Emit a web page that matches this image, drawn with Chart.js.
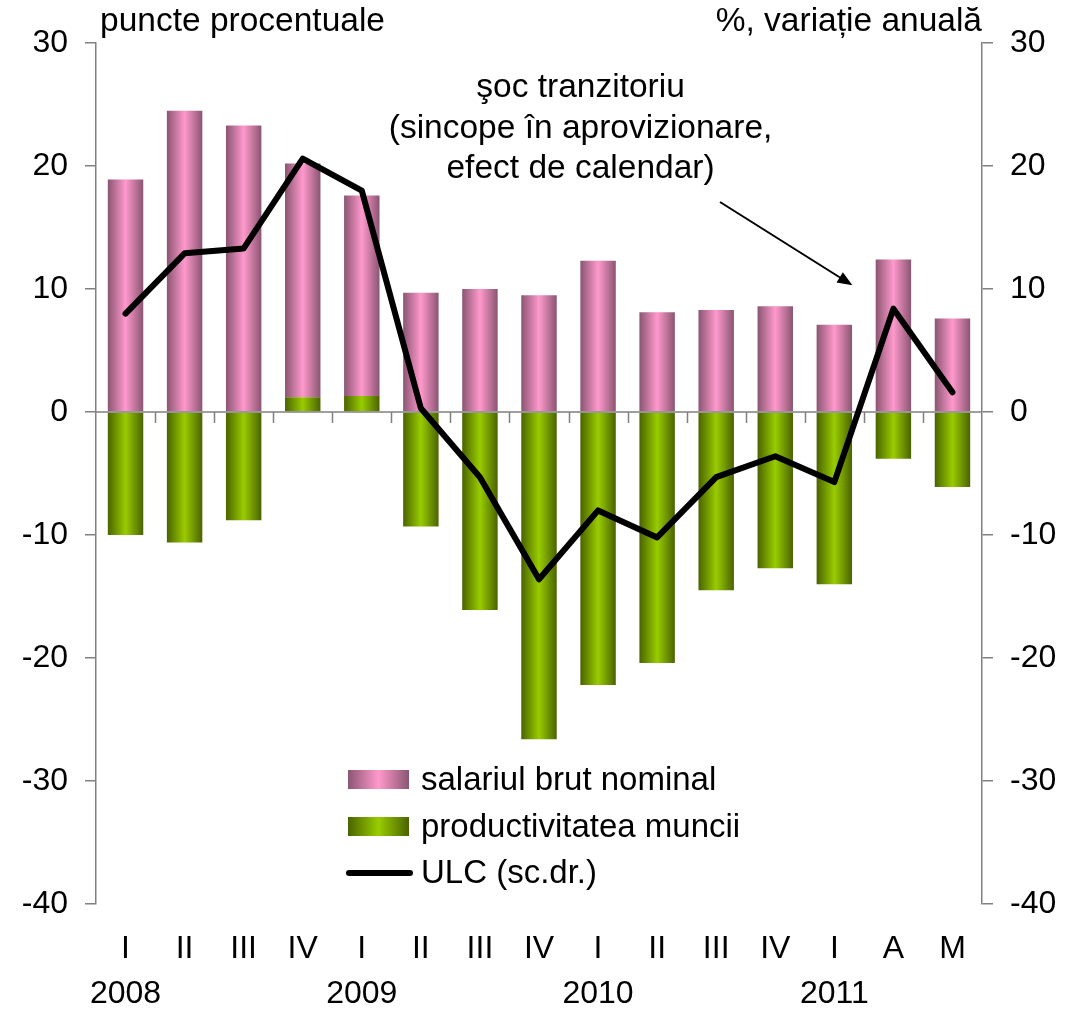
<!DOCTYPE html>
<html>
<head>
<meta charset="utf-8">
<script src="https://cdn.jsdelivr.net/npm/chart.js@4.4.1/dist/chart.umd.min.js"></script>
<style>
  html, body { margin: 0; padding: 0; background: #fff; }
  #wrap { width: 1067px; height: 1010px; }
</style>
</head>
<body>
<div id="wrap"><canvas id="ulcChart"></canvas></div>
<script>
// quarters 2008-2011 (A, M = April, May 2011)
const quarters = [["I", "2008"], "II", "III", "IV", ["I", "2009"], "II", "III", "IV",
                  ["I", "2010"], "II", "III", "IV", ["I", "2011"], "A", "M"];
const salariu = [18.9, 24.5, 23.3, 19.0, 16.3, 9.7, 10.0, 9.5, 12.3, 8.1, 8.3, 8.6, 7.1, 12.4, 7.6];
const productivitate = [-10.0, -10.6, -8.8, 1.2, 1.3, -9.3, -16.1, -26.6, -22.2, -20.4, -14.5, -12.7, -14.0, -3.8, -6.1];
const ulc = [8.0, 12.9, 13.3, 20.6, 18.0, 0.3, -5.3, -13.6, -8.0, -10.2, -5.3, -3.6, -5.7, 8.4, 1.6];
const legendLabels = ["salariul brut nominal", "productivitatea muncii", "ULC (sc.dr.)"];
const yMin = -40, yMax = 30, yStep = 10;

const FONT = "'Liberation Sans', Arial, sans-serif";
const axisGrey = "#808080";
const pinkStops = ["#8a5572", "#ff99cc", "#8a5572"];
const greenStops = ["#4a6300", "#99cc00", "#4a6300"];
const barPct = 0.6;

function barGradient(context, stops) {
    const chart = context.chart;
    if (!chart.chartArea || context.type !== "data") return stops[1];
    const xs = chart.scales.x;
    const cx = xs.getPixelForValue(context.dataIndex);
    const half = (xs.width / quarters.length) * barPct / 2;
    const g = chart.ctx.createLinearGradient(cx - half, 0, cx + half, 0);
    g.addColorStop(0, stops[0]);
    g.addColorStop(0.5, stops[1]);
    g.addColorStop(1, stops[2]);
    return g;
}

function boxGradient(c, x, w, stops) {
    const g = c.createLinearGradient(x, 0, x + w, 0);
    g.addColorStop(0, stops[0]);
    g.addColorStop(0.5, stops[1]);
    g.addColorStop(1, stops[2]);
    return g;
}

const decorations = {
    id: "decorations",
    beforeDatasetDraw(chart, args) {
        if (args.index !== 2) return;
        // zero line with small category ticks under it
        const c = chart.ctx;
        const xs = chart.scales.x, ys = chart.scales.y;
        const y0 = ys.getPixelForValue(0);
        const w = xs.width / quarters.length;
        c.save();
        c.strokeStyle = axisGrey;
        c.lineWidth = 1.5;
        c.beginPath();
        c.moveTo(xs.left, y0);
        c.lineTo(xs.right, y0);
        for (let i = 1; i < quarters.length; i++) {
            const x = Math.round(xs.left + i * w) + 0.5;
            c.moveTo(x, y0);
            c.lineTo(x, y0 + 11);
        }
        c.stroke();
        c.restore();
    },
    afterDraw(chart) {
        const c = chart.ctx;
        const area = chart.chartArea;
        const xs = chart.scales.x, ys = chart.scales.y;
        c.save();
        c.fillStyle = "#000";
        c.font = "33.5px " + FONT;
        c.textBaseline = "middle";

        // axis captions
        c.textAlign = "left";
        c.fillText("puncte procentuale", area.left + 4, 22);
        c.textAlign = "right";
        c.fillText("%, variație anuală", area.right, 22);

        // annotation
        c.textAlign = "center";
        const ax = (xs.getPixelForValue(7) + xs.getPixelForValue(8)) / 2 + 12;
        c.fillText("şoc tranzitoriu", ax, 88);
        c.fillText("(sincope în aprovizionare,", ax, 129);
        c.fillText("efect de calendar)", ax, 169);

        // arrow
        const tipX = xs.getPixelForValue(13) - 41, tipY = ys.getPixelForValue(10.3);
        const startX = 720, startY = 202;
        const ang = Math.atan2(tipY - startY, tipX - startX);
        c.strokeStyle = "#000";
        c.lineWidth = 2;
        c.beginPath();
        c.moveTo(startX, startY);
        c.lineTo(tipX - 10 * Math.cos(ang), tipY - 10 * Math.sin(ang));
        c.stroke();
        c.beginPath();
        c.moveTo(tipX, tipY);
        c.lineTo(tipX - 15 * Math.cos(ang) + 6 * Math.sin(ang), tipY - 15 * Math.sin(ang) - 6 * Math.cos(ang));
        c.lineTo(tipX - 15 * Math.cos(ang) - 6 * Math.sin(ang), tipY - 15 * Math.sin(ang) + 6 * Math.cos(ang));
        c.closePath();
        c.fill();

        // legend
        const lx = 348, bw = 61, tx = 421;
        const rows = [780, 827, 873];
        c.font = "33px " + FONT;
        c.textAlign = "left";
        c.fillStyle = boxGradient(c, lx, bw, pinkStops);
        c.fillRect(lx, rows[0] - 10, bw, 19);
        c.fillStyle = boxGradient(c, lx, bw, greenStops);
        c.fillRect(lx, rows[1] - 10, bw, 19);
        c.strokeStyle = "#000";
        c.lineWidth = 6;
        c.lineCap = "round";
        c.beginPath();
        c.moveTo(lx + 1, rows[2]);
        c.lineTo(lx + bw + 1, rows[2]);
        c.stroke();
        c.fillStyle = "#000";
        legendLabels.forEach((t, i) => c.fillText(t, tx, rows[i] + 1));
        c.restore();
    }
};

const tickFont = { family: FONT, size: 32 };

new Chart(document.getElementById("ulcChart"), {
    type: "bar",
    data: {
        labels: quarters,
        datasets: [
            {
                label: legendLabels[1],
                data: productivitate,
                backgroundColor: ctx => barGradient(ctx, greenStops),
                borderWidth: 0,
                barPercentage: barPct,
                categoryPercentage: 1.0,
                order: 1
            },
            {
                label: legendLabels[0],
                data: salariu,
                backgroundColor: ctx => barGradient(ctx, pinkStops),
                borderWidth: 0,
                barPercentage: barPct,
                categoryPercentage: 1.0,
                order: 2
            },
            {
                type: "line",
                label: legendLabels[2],
                data: ulc,
                yAxisID: "y1",
                borderColor: "#000",
                borderWidth: 6,
                pointRadius: 0,
                borderJoinStyle: "round",
                borderCapStyle: "round",
                tension: 0,
                order: 0
            }
        ]
    },
    options: {
        responsive: true,
        maintainAspectRatio: false,
        animation: false,
        layout: { padding: { top: 43, left: 0, right: 0, bottom: 0 } },
        plugins: {
            legend: { display: false },
            tooltip: { enabled: false }
        },
        scales: {
            x: {
                stacked: true,
                grid: { display: false, drawTicks: false },
                border: { display: false },
                ticks: {
                    color: "#000",
                    font: { family: FONT, size: 32, lineHeight: 1.4 },
                    padding: 23,
                    maxRotation: 0,
                    autoSkip: false
                },
                afterFit(scale) { scale.height = 106; }
            },
            y: {
                stacked: true,
                position: "left",
                min: yMin,
                max: yMax,
                ticks: { stepSize: yStep, color: "#000", font: tickFont, padding: 17 },
                grid: { drawOnChartArea: false, tickLength: 11, color: axisGrey, lineWidth: 1.5 },
                border: { color: axisGrey, width: 1.5 },
                afterFit(scale) { scale.width = 96; }
            },
            y1: {
                position: "right",
                min: yMin,
                max: yMax,
                ticks: { stepSize: yStep, color: "#000", font: tickFont, padding: 17 },
                grid: { drawOnChartArea: false, tickLength: 11, color: axisGrey, lineWidth: 1.5 },
                border: { color: axisGrey, width: 1.5 },
                afterFit(scale) { scale.width = 85; }
            }
        }
    },
    plugins: [decorations]
});
</script>
</body>
</html>
